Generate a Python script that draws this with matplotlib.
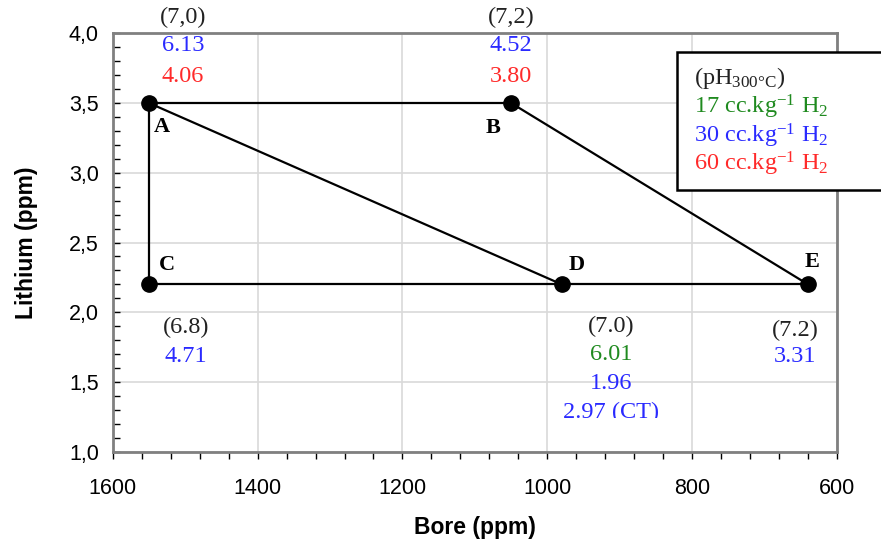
import matplotlib
matplotlib.use("Agg")
import matplotlib.pyplot as plt
from matplotlib.ticker import MultipleLocator, FuncFormatter
from matplotlib.patches import Rectangle

plt.rcParams['font.family'] = ['Liberation Sans', 'DejaVu Sans']
plt.rcParams['mathtext.fontset'] = 'custom'
plt.rcParams['mathtext.rm'] = 'Liberation Serif'
plt.rcParams['mathtext.it'] = 'Liberation Serif:italic'
plt.rcParams['mathtext.bf'] = 'Liberation Serif:bold'

# Data
point_names = ['A', 'B', 'C', 'D', 'E']
bore = [1550, 1050, 1550, 980, 640]
lithium = [3.5, 3.5, 2.2, 2.2, 2.2]
segments = [('A', 'B'), ('A', 'C'), ('A', 'D'), ('B', 'E'), ('C', 'E')]

ph_labels = ['(7,0)', '(7,2)', '(6.8)', '(7.0)', '(7.2)']
ph_17 = {'D': '6.01'}
ph_30 = {'A': '6.13', 'B': '4.52', 'C': '4.71', 'D': '1.96', 'E': '3.31'}
ph_60 = {'A': '4.06', 'B': '3.80'}

BLUE = '#2a2aff'
RED = '#ff2a2a'
GREEN = '#1f8a1f'
SERIF = ['Liberation Serif', 'DejaVu Serif']

fig = plt.figure(figsize=(8.81, 5.45), dpi=100)
ax = fig.add_axes([0.128, 0.171, 0.822, 0.768])

pos = {n: (x, y) for n, x, y in zip(point_names, bore, lithium)}
for a, b in segments:
    ax.plot([pos[a][0], pos[b][0]], [pos[a][1], pos[b][1]], color='black', lw=1.6, zorder=3)
ax.plot(bore, lithium, 'o', color='black', ms=11, zorder=4)

ax.set_xlim(1600, 600)
ax.set_ylim(1.0, 4.0)
ax.xaxis.set_major_locator(MultipleLocator(200))
ax.xaxis.set_minor_locator(MultipleLocator(40))
ax.yaxis.set_major_locator(MultipleLocator(0.5))
ax.yaxis.set_minor_locator(MultipleLocator(0.1))
ax.yaxis.set_major_formatter(FuncFormatter(lambda v, p: f"{v:.1f}".replace('.', ',')))
ax.grid(True, which='major', color='#d9d9d9', lw=1.2, zorder=0)
ax.tick_params(axis='x', which='both', direction='out', length=5, width=1, labelsize=15.5, pad=14)
ax.tick_params(axis='y', which='both', direction='in', length=5, width=1, labelsize=15.5, pad=10)
for s in ax.spines.values():
    s.set_color('#808080')
    s.set_linewidth(2)

ax.set_xlabel('Bore (ppm)', fontsize=16.5, fontweight='bold', labelpad=12)
ax.set_ylabel('Lithium (ppm)', fontsize=16.5, fontweight='bold', labelpad=22)

# point letters
letter_pos = {'A': (1532, 3.33), 'B': (1075, 3.32), 'C': (1525, 2.34),
              'D': (959, 2.34), 'E': (635, 2.36)}
for n, (x, y) in letter_pos.items():
    ax.text(x, y, n, family=SERIF, fontweight='bold', fontsize=16,
            ha='center', va='center', zorder=5)

# value annotations
kw = dict(family=SERIF, fontsize=17.5, ha='center', va='center', clip_on=False, zorder=5)
ax.text(1503, 4.115, ph_labels[0], color='#222222', **kw)
ax.text(1503, 3.915, ph_30['A'], color=BLUE, **kw)
ax.text(1503, 3.69, ph_60['A'], color=RED, **kw)

ax.text(1050, 4.115, ph_labels[1], color='#222222', **kw)
ax.text(1050, 3.915, ph_30['B'], color=BLUE, **kw)
ax.text(1050, 3.69, ph_60['B'], color=RED, **kw)

ax.text(1499, 1.89, ph_labels[2], color='#222222', **kw)
ax.text(1499, 1.68, ph_30['C'], color=BLUE, **kw)

ax.text(912, 1.895, ph_labels[3], color='#222222', **kw)
ax.text(912, 1.695, ph_17['D'], color=GREEN, **kw)
ax.text(912, 1.49, ph_30['D'], color=BLUE, **kw)
# the last line is cut off at the bottom in the original
ct = ax.text(912, 1.285, '2.97 (CT)', color=BLUE, family=SERIF, fontsize=17.5,
             ha='center', va='center', zorder=5, clip_on=True)
clip = Rectangle((700, 1.245), 400, 0.15, transform=ax.transData,
                 facecolor='none', edgecolor='none')
ax.add_patch(clip)
ct.set_clip_path(clip)

ax.text(658, 1.87, ph_labels[4], color='#222222', **kw)
ax.text(658, 1.68, ph_30['E'], color=BLUE, **kw)

# legend box
box = Rectangle((0.768, 0.651), 0.3, 0.254, transform=fig.transFigure,
                facecolor='white', edgecolor='black', lw=1.8, zorder=10, clip_on=False)
fig.patches.append(box)
lkw = dict(family=SERIF, fontsize=17.5, ha='left', va='center', zorder=11)
fig.text(0.788, 1 - 78 / 545, r'(pH$_{300°\mathrm{C}}$)', color='#222222', **lkw)
fig.text(0.788, 1 - 107 / 545, r'17 cc.kg$^{-1}$ H$_2$', color=GREEN, **lkw)
fig.text(0.788, 1 - 136 / 545, r'30 cc.kg$^{-1}$ H$_2$', color=BLUE, **lkw)
fig.text(0.788, 1 - 164 / 545, r'60 cc.kg$^{-1}$ H$_2$', color=RED, **lkw)

fig.savefig('out.png', dpi=100, facecolor='white')
